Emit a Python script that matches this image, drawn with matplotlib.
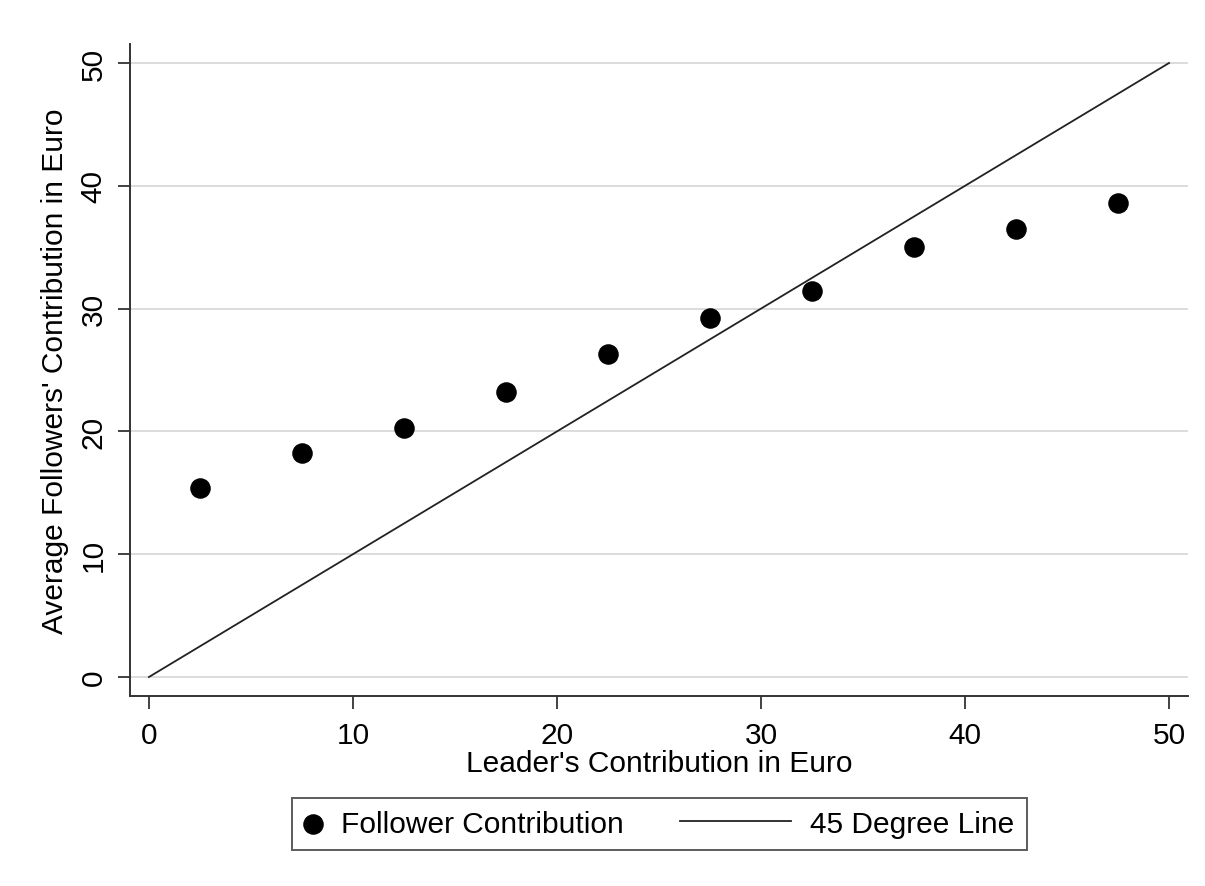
import matplotlib.pyplot as plt
from matplotlib.legend_handler import HandlerLine2D, HandlerPathCollection

plt.rcParams['font.family'] = ['Liberation Sans', 'DejaVu Sans']

# Data
leader = [2.5, 7.5, 12.5, 17.5, 22.5, 27.5, 32.5, 37.5, 42.5, 47.5]
follower = [15.4, 18.2, 20.3, 23.2, 26.3, 29.2, 31.4, 35.0, 36.5, 38.6]
diag = [0, 50]
ticks = [0, 10, 20, 30, 40, 50]

FS = 21.5


class LongLine(HandlerLine2D):
    # stata-style key: line longer than the marker key, extending to the left
    def get_xdata(self, legend, xdescent, ydescent, width, height, fontsize):
        x0 = -xdescent + width
        return [x0 - 3.7 * fontsize, x0], [x0]


fig = plt.figure(figsize=(12.05, 8.87), dpi=100)
ax = fig.add_axes([0.1079, 0.2142, 0.878, 0.7351])

ax.scatter(leader, follower, s=190, color='black', zorder=3, label='Follower Contribution')
ax.plot(diag, diag, color='#222222', lw=1.3, zorder=2, label='45 Degree Line')

ax.set_xlim(-0.93, 50.93)
ax.set_ylim(-1.55, 51.55)
ax.set_xticks(ticks)
ax.set_yticks(ticks)
ax.yaxis.grid(True, color='#d6d6d6', lw=1.2)
ax.set_axisbelow(True)
for s in ['top', 'right']:
    ax.spines[s].set_visible(False)
for s in ['left', 'bottom']:
    ax.spines[s].set_linewidth(1.4)
    ax.spines[s].set_color('#333333')
ax.tick_params(length=9, width=1.3, color='#333333', labelsize=FS)
ax.tick_params(axis='x', pad=9)
ax.tick_params(axis='y', pad=7)
plt.setp(ax.get_yticklabels(), rotation=90, va='center')

ax.set_xlabel("Leader's Contribution in Euro", fontsize=FS, labelpad=0)
ax.set_ylabel("Average Followers' Contribution in Euro", fontsize=FS, labelpad=8)

leg = fig.legend(loc='center', bbox_to_anchor=(0.547, 0.070), ncol=2, fontsize=FS,
                 frameon=True, fancybox=False, edgecolor='#333333',
                 handlelength=0.6, handletextpad=0.65, columnspacing=5.0,
                 borderpad=0.4, scatterpoints=1,
                 handler_map={plt.Line2D: LongLine()})
leg.get_frame().set_linewidth(1.4)

fig.savefig('out.png', dpi=100, facecolor='white')
